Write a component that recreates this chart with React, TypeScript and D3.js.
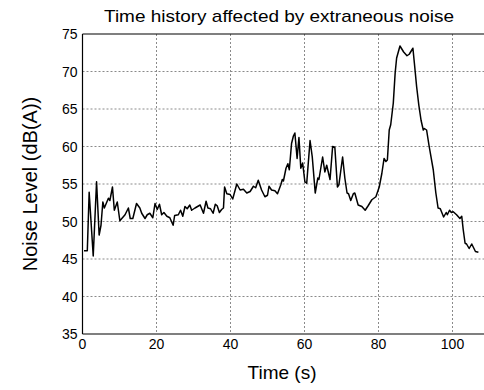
import React from "react";
import * as d3 from "d3";

// time (s) and level (dB(A))
const times = [
  0.4, 1.3, 1.8, 2.9, 3.8, 4.5, 5.0, 5.5, 5.9, 7.0, 7.4, 8.1, 8.6, 9.4, 10.1, 11.5, 12.4, 12.9, 13.6,
  14.6, 15.5, 16.0, 16.9, 17.5, 18.2, 19.0, 19.6, 20.2, 20.8, 21.4, 22.0, 22.8, 23.6, 24.5, 24.9,
  25.9, 26.5, 27.1, 27.7, 28.3, 29.0, 29.5, 30.4, 31.8, 32.7, 33.4, 33.9, 34.6, 35.3, 35.9, 36.4,
  37.0, 37.6, 38.1, 38.4, 39.0, 39.9, 40.6, 41.7, 42.6, 43.5, 44.4, 45.3, 46.2, 46.8, 47.5, 48.4,
  49.3, 50.0, 50.4, 51.1, 52.0, 52.7, 53.6, 54.0, 54.3, 55.0, 55.5, 55.9, 56.5, 57.0, 57.4, 58.0,
  58.5, 59.0, 59.5, 60.1, 60.6, 61.5, 62.1, 62.9, 63.6, 63.9, 64.9, 65.5, 66.0, 66.9, 67.6, 68.2,
  68.9, 69.3, 70.3, 70.9, 71.5, 71.9, 72.5, 73.2, 73.6, 74.5, 75.5, 76.4, 77.2, 78.2, 79.3, 80.2,
  80.9, 81.5, 82.0, 82.4, 82.9, 83.3, 84.0, 84.5, 84.9, 85.8, 86.8, 87.7, 88.3, 89.3, 89.7, 90.3,
  90.9, 91.5, 92.1, 92.4, 93.0, 93.7, 94.8, 95.5, 96.1, 96.7, 97.6, 98.3, 98.6, 99.2, 99.7, 100.2,
  101.1, 102.0, 102.5, 102.9, 103.4, 103.8, 104.5, 105.2, 105.6, 106.2, 107.0,
];
const levels = [
  46.1, 46.1, 53.9, 45.4, 55.3, 48.2, 49.5, 52.6, 51.8, 53.1, 52.8, 54.6, 51.5, 52.6, 50.1, 50.9, 51.8, 50.4, 50.4,
  52.4, 51.8, 51.1, 50.4, 50.9, 51.1, 50.5, 52.4, 51.6, 52.3, 50.9, 51.2, 50.7, 50.5, 49.5, 50.8,
  50.9, 51.5, 50.7, 52.0, 51.7, 52.2, 51.5, 51.8, 52.2, 51.1, 52.7, 51.8, 51.7, 51.1, 52.3, 52.1,
  51.2, 51.6, 51.8, 54.6, 53.7, 53.6, 53.0, 55.0, 54.2, 54.3, 53.8, 54.0, 54.7, 54.5, 55.5, 54.2,
  53.3, 53.5, 54.7, 54.2, 54.1, 53.7, 54.9, 55.6, 55.4, 57.1, 57.7, 56.9, 60.4, 61.4, 61.8, 58.4,
  61.2, 57.1, 57.8, 55.3, 55.1, 60.8, 58.6, 53.8, 55.8, 55.6, 58.6, 56.6, 57.5, 55.6, 60.0, 59.9,
  54.6, 54.9, 58.6, 55.8, 53.8, 53.7, 52.8, 53.7, 53.8, 52.2, 52.0, 51.5, 52.1, 52.9, 53.3, 54.6,
  56.4, 58.4, 58.0, 58.2, 62.2, 62.9, 65.8, 69.8, 71.8, 73.4, 72.6, 72.1, 72.3, 73.1, 71.1, 68.0,
  65.5, 63.5, 62.2, 62.4, 62.2, 60.0, 56.9, 53.8, 51.8, 51.7, 50.6, 51.2, 50.9, 51.5, 51.2, 51.3,
  50.9, 50.4, 50.7, 48.9, 47.1, 47.0, 46.4, 47.0, 46.6, 46.0, 45.9,
];
const xTicks = [0, 20, 40, 60, 80, 100];
const yTicks = [35, 40, 45, 50, 55, 60, 65, 70, 75];

const width = 484;
const height = 390;
const margin = { left: 82.5, top: 34, right: -5.5, bottom: 56 };

export default function App() {
  const x = d3.scaleLinear().domain([0, 110]).range([margin.left, width - margin.right]);
  const y = d3.scaleLinear().domain([35, 75]).range([height - margin.bottom, margin.top]);

  const points: [number, number][] = times.map((t, i) => [t, levels[i]]);
  const line = d3
    .line<[number, number]>()
    .x((d) => x(d[0]))
    .y((d) => y(d[1]));

  const font = "Arial, 'Liberation Sans', sans-serif";
  const x0 = x(0);
  const x1 = x(110);
  const yTop = y(75);
  const yBot = y(35);

  return (
    <div style={{ position: "absolute", left: 0, top: 0 }}>
      <svg width={width} height={height} style={{ display: "block", background: "#fff" }} fontFamily={font}>
        {/* grid */}
        {xTicks.slice(1).map((t) => (
          <line key={"gx" + t} x1={x(t)} x2={x(t)} y1={yTop} y2={yBot} stroke="#8a8a8a" strokeWidth={1} strokeDasharray="2,2" />
        ))}
        {yTicks.slice(1, -1).map((v) => (
          <line key={"gy" + v} x1={x0} x2={x1} y1={y(v)} y2={y(v)} stroke="#8a8a8a" strokeWidth={1} strokeDasharray="2,2" />
        ))}

        {/* frame */}
        <line x1={x0} x2={x1} y1={yTop} y2={yTop} stroke="#000" strokeWidth={1.2} />
        <line x1={x0} x2={x1} y1={yBot} y2={yBot} stroke="#000" strokeWidth={1.2} />
        <line x1={x0} x2={x0} y1={yTop} y2={yBot} stroke="#000" strokeWidth={1.2} />

        {/* trace */}
        <path d={line(points) || ""} fill="none" stroke="#000" strokeWidth={1.5} strokeLinejoin="round" />

        {/* tick labels */}
        {yTicks.map((v) => (
          <text key={"ty" + v} x={x0 - 5} y={y(v)} dy="0.36em" textAnchor="end" fontSize={14}>
            {v}
          </text>
        ))}
        {xTicks.map((t) => (
          <text key={"tx" + t} x={x(t)} y={yBot + 15} textAnchor="middle" fontSize={14}>
            {t}
          </text>
        ))}

        {/* titles */}
        <text x={279} y={22} textAnchor="middle" fontSize={17} textLength={350} lengthAdjust="spacingAndGlyphs">
          Time history affected by extraneous noise
        </text>
        <text x={282} y={379} textAnchor="middle" fontSize={19}>
          Time (s)
        </text>
        <text transform={`translate(37, ${(yTop + yBot) / 2}) rotate(-90)`} textAnchor="middle" fontSize={20}>
          Noise Level (dB(A))
        </text>
      </svg>
    </div>
  );
}
